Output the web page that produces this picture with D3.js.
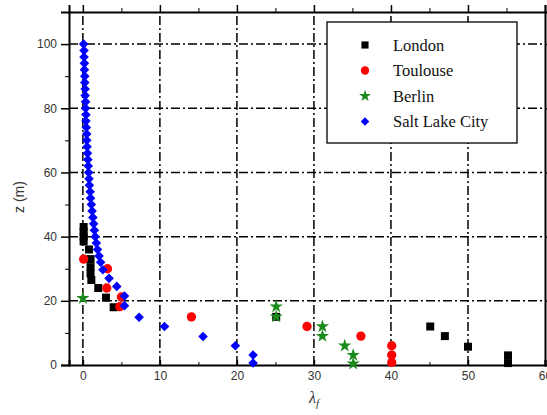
<!DOCTYPE html>
<html>
<head>
<meta charset="utf-8">
<script src="https://cdn.jsdelivr.net/npm/d3@7"></script>
<style>
  body { margin: 0; background: #fff; }
  svg { display: block; }
</style>
</head>
<body>
<div id="chart"></div>
<script>
const width = 547;
const height = 415;

// Data: [lambda_f, z]
const london = [
  [0.1, 43], [0.1, 41.5], [0.1, 40], [0.1, 38.5], [0.8, 36], [1.0, 33],
  [1.0, 30.5], [1.0, 28.5], [1.1, 26.5], [2.0, 24], [3.0, 21], [4.0, 18],
  [25.1, 15], [45.1, 12], [47.0, 9], [50.0, 5.7], [55.2, 3], [55.2, 0.6]
];
const toulouse = [
  [0.1, 33], [3.2, 30], [3.1, 24], [5.0, 21.2], [4.8, 18.2], [14.1, 15],
  [29.1, 12], [36.1, 9], [40.1, 6], [40.1, 3.1], [40.1, 0.8]
];
const berlin = [
  [0.0, 20.8], [25.1, 18.2], [25.1, 15.1], [31.1, 12], [31.1, 9],
  [34.0, 6], [35.1, 3.1], [35.1, 0.4]
];
const saltLake = [
  [0.1, 100], [0.15, 98], [0.15, 96], [0.2, 94], [0.2, 92], [0.25, 90],
  [0.25, 88], [0.3, 86], [0.3, 84], [0.35, 82], [0.35, 80], [0.4, 78],
  [0.4, 76], [0.45, 74], [0.5, 72], [0.5, 70], [0.55, 68], [0.6, 66],
  [0.65, 64], [0.7, 62], [0.75, 60], [0.8, 58], [0.85, 56], [0.95, 54],
  [1.0, 52], [1.1, 50], [1.2, 48], [1.3, 46], [1.4, 44], [1.5, 42],
  [1.6, 40], [1.75, 38], [1.9, 36], [2.1, 34], [2.3, 32], [2.6, 29.7],
  [3.4, 27], [4.4, 24.5], [5.4, 21.5], [5.4, 18.5], [7.3, 14.9],
  [10.6, 12], [15.6, 8.9], [19.8, 6], [22.1, 3.1], [22.1, 0.6]
];

const xTicks = [0, 10, 20, 30, 40, 50, 60];
const xMinor = [5, 15, 25, 35, 45, 55];
const yTicks = [0, 20, 40, 60, 80, 100];
const yMinor = [10, 30, 50, 70, 90, 110];
const xGrid = [0, 10, 20, 30, 40, 50];
const yGrid = [20, 40, 60, 80, 100];

const series = [
  { name: "London", data: london, color: "#000", shape: d3.symbolSquare, size: 64, rot: 0 },
  { name: "Toulouse", data: toulouse, color: "#f00", shape: d3.symbolCircle, size: 68, rot: 0 },
  { name: "Berlin", data: berlin, color: "#1a8a1a", shape: d3.symbolStar, size: 55, rot: 0 },
  { name: "Salt Lake City", data: saltLake, color: "#0000ff", shape: d3.symbolSquare, size: 46, rot: 45 }
];

const x = d3.scaleLinear().domain([-1.8, 60]).range([69, 545]);
const y = d3.scaleLinear().domain([0, 110]).range([365, 12]);

const svg = d3.select("#chart")
  .append("svg")
  .attr("width", width)
  .attr("height", height);

// grid
const grid = svg.append("g")
  .attr("stroke", "#000")
  .attr("stroke-width", 1.5)
  .attr("stroke-dasharray", "9,3,2,3");

grid.selectAll("line.vx")
  .data(xGrid)
  .join("line")
  .attr("x1", d => x(d)).attr("x2", d => x(d))
  .attr("y1", y(0)).attr("y2", y(110));

grid.selectAll("line.hy")
  .data(yGrid)
  .join("line")
  .attr("x1", x(-1.8)).attr("x2", x(60))
  .attr("y1", d => y(d)).attr("y2", d => y(d));

// axes
const styleAxis = g => {
  g.select(".domain").attr("stroke-width", 2);
  g.selectAll(".tick line").attr("stroke-width", 1.5);
  g.selectAll("text")
    .attr("font-family", "Liberation Sans, Arial, sans-serif")
    .attr("font-size", 12)
    .attr("fill", "#333");
};

svg.append("g")
  .attr("transform", `translate(0,${y(0)})`)
  .call(d3.axisBottom(x).tickValues(xTicks).tickSize(-5).tickPadding(6))
  .call(styleAxis);
svg.append("g")
  .attr("transform", `translate(0,${y(0)})`)
  .call(d3.axisBottom(x).tickValues(xMinor).tickSize(-3).tickFormat(""))
  .call(g => g.select(".domain").remove());

svg.append("g")
  .attr("transform", `translate(0,${y(110)})`)
  .call(d3.axisTop(x).tickValues(xTicks).tickSize(7).tickFormat(""))
  .call(styleAxis);
svg.append("g")
  .attr("transform", `translate(0,${y(110)})`)
  .call(d3.axisTop(x).tickValues(xMinor).tickSize(4).tickFormat(""))
  .call(g => g.select(".domain").remove());

svg.append("g")
  .attr("transform", `translate(${x(-1.8)},0)`)
  .call(d3.axisLeft(y).tickValues(yTicks).tickSize(8).tickPadding(4))
  .call(styleAxis);
svg.append("g")
  .attr("transform", `translate(${x(-1.8)},0)`)
  .call(d3.axisLeft(y).tickValues(yMinor).tickSize(4).tickFormat(""))
  .call(g => g.select(".domain").remove());

svg.append("g")
  .attr("transform", `translate(${x(60)},0)`)
  .call(d3.axisRight(y).tickValues(yTicks).tickSize(7).tickFormat(""))
  .call(styleAxis);

// markers
series.forEach(s => {
  const sym = d3.symbol().type(s.shape).size(s.size);
  svg.append("g")
    .selectAll("path")
    .data(s.data)
    .join("path")
    .attr("d", sym)
    .attr("fill", s.color)
    .attr("transform", d => `translate(${x(d[0])},${y(d[1])}) rotate(${s.rot})`);
});

// legend
const legend = svg.append("g");
legend.append("rect")
  .attr("x", 327).attr("y", 22)
  .attr("width", 190).attr("height", 121)
  .attr("fill", "#fff")
  .attr("stroke", "#000")
  .attr("stroke-width", 1.3);

const rows = legend.selectAll("g.row")
  .data(series)
  .join("g")
  .attr("transform", (d, i) => `translate(365,${45 + i * 25.5})`);

rows.append("path")
  .attr("d", d => d3.symbol().type(d.shape).size(d.size * 0.8)())
  .attr("fill", d => d.color)
  .attr("transform", d => `rotate(${d.rot})`);

rows.append("text")
  .attr("x", 28)
  .attr("dy", "0.35em")
  .attr("font-family", "Liberation Serif, Times New Roman, serif")
  .attr("font-size", 16.5)
  .attr("fill", "#111")
  .text(d => d.name);

// axis titles
svg.append("text")
  .attr("transform", "translate(24,197) rotate(-90)")
  .attr("text-anchor", "middle")
  .attr("font-family", "Liberation Sans, Arial, sans-serif")
  .attr("font-size", 14)
  .attr("fill", "#333")
  .text("z (m)");

const xt = svg.append("text")
  .attr("x", 309)
  .attr("y", 403)
  .attr("font-family", "Liberation Serif, Times New Roman, serif")
  .attr("font-style", "italic")
  .attr("font-size", 16)
  .attr("fill", "#333");
xt.append("tspan").text("λ");
xt.append("tspan").attr("dy", 4).attr("font-size", 11).text("f");
</script>
</body>
</html>
